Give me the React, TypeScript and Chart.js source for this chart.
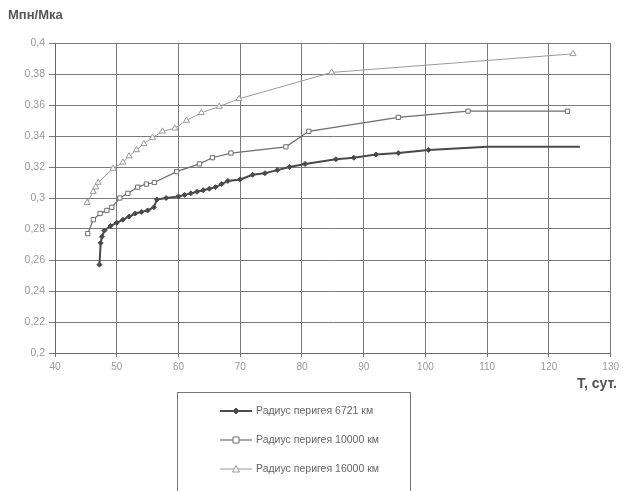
import React, { useEffect, useRef } from "react";
import { Chart, registerables } from "chart.js";

Chart.register(...registerables);

const xTicks = [40, 50, 60, 70, 80, 90, 100, 110, 120, 130];
const yTicks = [0.2, 0.22, 0.24, 0.26, 0.28, 0.3, 0.32, 0.34, 0.36, 0.38, 0.4];

const s1Label = "Радиус перигея 6721 км";
const s1T = [47.2, 47.4, 47.6, 48, 49, 50, 51, 52, 53, 54, 55, 56, 56.5, 58, 60, 61, 62, 63, 64, 65, 66, 67, 68, 70, 72, 74, 76, 78, 80.5, 85.5, 88.4, 92, 95.6, 100.5, 110, 125];
const s1V = [0.257, 0.271, 0.275, 0.279, 0.282, 0.284, 0.286, 0.288, 0.29, 0.291, 0.292, 0.294, 0.299, 0.3, 0.301, 0.302, 0.303, 0.304, 0.305, 0.306, 0.307, 0.309, 0.311, 0.312, 0.315, 0.316, 0.318, 0.32, 0.322, 0.325, 0.326, 0.328, 0.329, 0.331, 0.333, 0.333];

const s2Label = "Радиус перигея 10000 км";
const s2T = [45.3, 46.2, 47.3, 48.4, 49.2, 50.5, 51.8, 53.4, 54.8, 56.1, 59.7, 63.4, 65.5, 68.5, 77.4, 81.1, 95.6, 106.9, 123];
const s2V = [0.277, 0.286, 0.29, 0.292, 0.294, 0.3, 0.303, 0.307, 0.309, 0.31, 0.317, 0.322, 0.326, 0.329, 0.333, 0.343, 0.352, 0.356, 0.356];

const s3Label = "Радиус перигея 16000 км";
const s3T = [45.2, 46.2, 46.6, 47, 49.4, 51, 52, 53.2, 54.4, 55.8, 57.4, 59.4, 61.3, 63.7, 66.6, 69.8, 84.8, 123.9];
const s3V = [0.297, 0.304, 0.307, 0.31, 0.319, 0.323, 0.327, 0.331, 0.335, 0.339, 0.343, 0.345, 0.35, 0.355, 0.359, 0.364, 0.381, 0.393];

const yTitle = "Мпн/Мка";
const xTitle = "T, сут.";

const FONT = "'Liberation Sans', Arial, sans-serif";

function toPts(t: number[], v: number[]) {
  return t.map((x, i) => ({ x, y: v[i] }));
}

export default function App() {
  const ref = useRef<HTMLCanvasElement | null>(null);

  useEffect(() => {
    if (!ref.current) return;
    const s1Radius = s1T.map((t) => (t > 101 ? 0 : 2.5));
    const series = [
      { label: s1Label, data: toPts(s1T, s1V), color: "#4a4a4a", width: 2, style: "rectRot", r: s1Radius as any, fill: "#4a4a4a" },
      { label: s2Label, data: toPts(s2T, s2V), color: "#6e6e6e", width: 1.2, style: "rect", r: 3 as any, fill: "#ffffff" },
      { label: s3Label, data: toPts(s3T, s3V), color: "#9a9a9a", width: 1, style: "triangle", r: 3.5 as any, fill: "#ffffff" },
    ];

    const overlay = {
      id: "overlay",
      afterDraw(chart: any) {
        const ctx = chart.ctx;
        ctx.save();
        ctx.fillStyle = "#555";
        ctx.font = `bold 13px ${FONT}`;
        ctx.textBaseline = "middle";
        ctx.textAlign = "left";
        ctx.fillText(yTitle, 8, 15);
        ctx.font = `bold 14px ${FONT}`;
        ctx.textAlign = "right";
        ctx.fillText(xTitle, 617, 384);
        // legend box
        ctx.strokeStyle = "#777";
        ctx.lineWidth = 1;
        ctx.strokeRect(177.5, 392.5, 233, 110);
        ctx.font = `10.5px ${FONT}`;
        ctx.textAlign = "left";
        const ys = [411, 440, 469];
        series.forEach((s, i) => {
          const y = ys[i];
          ctx.strokeStyle = s.color;
          ctx.lineWidth = s.width;
          ctx.beginPath();
          ctx.moveTo(220, y);
          ctx.lineTo(252, y);
          ctx.stroke();
          ctx.lineWidth = 1;
          ctx.fillStyle = s.fill;
          ctx.strokeStyle = s.color;
          const cx = 236;
          ctx.beginPath();
          if (s.style === "rectRot") {
            ctx.moveTo(cx, y - 3);
            ctx.lineTo(cx + 3, y);
            ctx.lineTo(cx, y + 3);
            ctx.lineTo(cx - 3, y);
            ctx.closePath();
          } else if (s.style === "rect") {
            ctx.rect(cx - 3, y - 3, 6, 6);
          } else {
            ctx.moveTo(cx, y - 3.5);
            ctx.lineTo(cx + 3.5, y + 3);
            ctx.lineTo(cx - 3.5, y + 3);
            ctx.closePath();
          }
          ctx.fill();
          ctx.stroke();
          ctx.fillStyle = "#666";
          ctx.fillText(s.label, 256, y);
        });
        ctx.restore();
      },
    };

    const chart = new Chart(ref.current, {
      type: "scatter",
      data: {
        datasets: series.map((s) => ({
          label: s.label,
          data: s.data,
          showLine: true,
          borderColor: s.color,
          borderWidth: s.width,
          pointStyle: s.style as any,
          pointRadius: s.r,
          pointBackgroundColor: s.fill,
          pointBorderColor: s.color,
          pointBorderWidth: 1,
          tension: 0,
        })),
      },
      options: {
        responsive: false,
        animation: false,
        layout: { padding: { left: 0, right: 10, top: 43, bottom: 118 } },
        plugins: { legend: { display: false }, tooltip: { enabled: false } },
        scales: {
          x: {
            type: "linear",
            min: 40,
            max: 130,
            afterBuildTicks: (s: any) => {
              s.ticks = xTicks.map((v) => ({ value: v }));
            },
            afterFit: (s: any) => {
              s.height = 20;
            },
            grid: { color: "#7a7a7a", lineWidth: 1, tickLength: 4, drawTicks: true },
            border: { color: "#666" },
            ticks: { color: "#999", font: { family: FONT, size: 10 }, padding: 4, maxRotation: 0, callback: (v: any) => String(v) },
          },
          y: {
            type: "linear",
            min: 0.2,
            max: 0.4,
            afterBuildTicks: (s: any) => {
              s.ticks = yTicks.map((v) => ({ value: v }));
            },
            afterFit: (s: any) => {
              s.width = 55;
            },
            grid: { color: "#7a7a7a", lineWidth: 1, tickLength: 6, drawTicks: true },
            border: { color: "#666" },
            ticks: {
              color: "#999",
              font: { family: FONT, size: 10.5 },
              padding: 4,
              callback: (v: any) => Number(Number(v).toFixed(2)).toString().replace(".", ","),
            },
          },
        },
      },
      plugins: [overlay],
    });
    return () => chart.destroy();
  }, []);

  return (
    <div style={{ position: "fixed", left: 0, top: 0, width: 623, height: 491, background: "#fff" }}>
      <canvas ref={ref} width={623} height={491} style={{ width: 623, height: 491, display: "block" }} />
    </div>
  );
}
